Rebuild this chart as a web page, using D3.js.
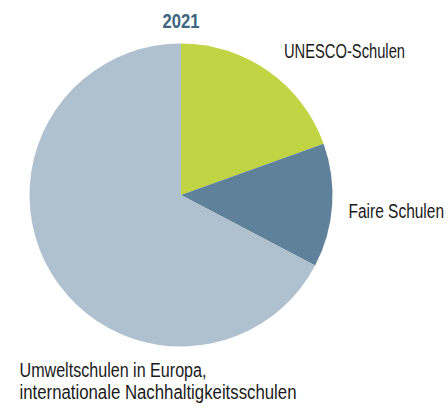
<!DOCTYPE html>
<html>
<head>
<meta charset="utf-8">
<script src="https://cdn.jsdelivr.net/npm/d3@7"></script>
<style>
  body { margin: 0; background: #fff; }
  svg text { font-family: "Liberation Sans", Arial, sans-serif; }
</style>
</head>
<body>
<svg id="chart"></svg>
<script>
const categories = ["UNESCO-Schulen", "Faire Schulen", "Umweltschulen in Europa, internationale Nachhaltigkeitsschulen"];
const values = [19.5, 13.2, 67.3];
const colors = ["#c0d444", "#5f8199", "#afc0cf"];
const title = "2021";

const width = 448;
const height = 413;
const cx = 181, cy = 195, radius = 151.5;

const svg = d3.select("#chart")
  .attr("width", width)
  .attr("height", height);

const pie = d3.pie().sort(null).value(d => d);
const arc = d3.arc().innerRadius(0).outerRadius(radius);

svg.append("g")
  .attr("transform", `translate(${cx}, ${cy})`)
  .selectAll("path")
  .data(pie(values))
  .enter()
  .append("path")
    .attr("d", arc)
    .attr("fill", (d, i) => colors[i]);

// no condensed face installed: small font stretched vertically
const stretch = 1.27;

// title
svg.append("g")
  .attr("transform", `translate(162.5, 28) scale(1, ${stretch})`)
  .append("text")
    .attr("textLength", 37)
    .attr("lengthAdjust", "spacingAndGlyphs")
    .style("font-size", "16px")
    .style("font-weight", "bold")
    .attr("fill", "#3d6580")
    .text(title);

// labels
const labels = [
  { x: 284, y: 57.5, lines: [categories[0]], widths: [121] },
  { x: 348.5, y: 217.5, lines: [categories[1]], widths: [95.5] },
  { x: 19.5, y: 376.5, lines: ["Umweltschulen in Europa,", "internationale Nachhaltigkeitsschulen"], widths: [187, 277] }
];

labels.forEach(l => {
  l.lines.forEach((line, i) => {
    svg.append("g")
      .attr("transform", `translate(${l.x}, ${l.y + i * 22}) scale(1, ${stretch})`)
      .append("text")
        .attr("textLength", l.widths[i])
        .attr("lengthAdjust", "spacingAndGlyphs")
        .style("font-size", "16px")
        .attr("fill", "#1a1a1a")
        .text(line);
  });
});
</script>
</body>
</html>
